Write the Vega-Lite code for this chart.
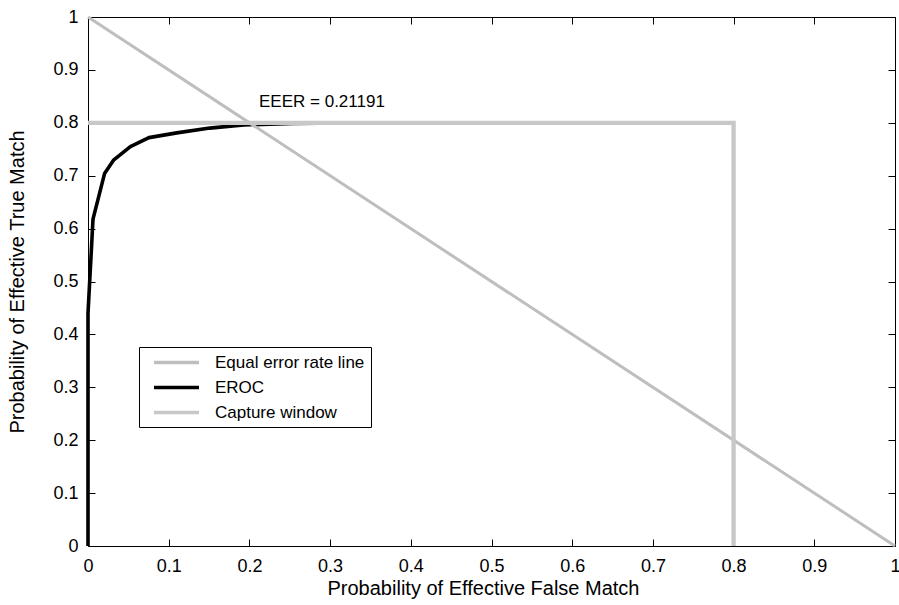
{
  "$schema": "https://vega.github.io/schema/vega-lite/v6.json",
  "width": 807,
  "height": 529,
  "autosize": "none",
  "padding": {"left": 88, "top": 17, "right": 4, "bottom": 59},
  "background": "white",
  "config": {
    "view": {"stroke": null},
    "font": "Liberation Sans",
    "axis": {
      "domainColor": "black",
      "domainWidth": 1,
      "tickColor": "black",
      "tickSize": -7,
      "tickWidth": 1,
      "grid": false,
      "labelFontSize": 18,
      "labelColor": "black",
      "labelFont": "Liberation Sans",
      "labelFlush": false,
      "labelOverlap": false,
      "titleFont": "Liberation Sans",
      "titleFontWeight": "normal",
      "titleColor": "black",
      "titleFontSize": 20
    }
  },
  "data": {
    "values": [
      {"series": "Equal error rate line", "x": 0, "y": 1, "ord": 1},
      {"series": "Equal error rate line", "x": 1, "y": 0, "ord": 2},
      {"series": "EROC", "x": 0, "y": 0, "ord": 1},
      {"series": "EROC", "x": 0, "y": 0.44, "ord": 2},
      {"series": "EROC", "x": 0.0062, "y": 0.618, "ord": 3},
      {"series": "EROC", "x": 0.0205, "y": 0.704, "ord": 4},
      {"series": "EROC", "x": 0.032, "y": 0.73, "ord": 5},
      {"series": "EROC", "x": 0.0525, "y": 0.755, "ord": 6},
      {"series": "EROC", "x": 0.0755, "y": 0.772, "ord": 7},
      {"series": "EROC", "x": 0.11, "y": 0.781, "ord": 8},
      {"series": "EROC", "x": 0.151, "y": 0.79, "ord": 9},
      {"series": "EROC", "x": 0.193, "y": 0.796, "ord": 10},
      {"series": "EROC", "x": 0.254, "y": 0.799, "ord": 11},
      {"series": "EROC", "x": 0.35, "y": 0.8, "ord": 12},
      {"series": "EROC", "x": 0.8, "y": 0.8, "ord": 13},
      {"series": "Capture window", "x": 0, "y": 0.8, "ord": 1},
      {"series": "Capture window", "x": 0.8, "y": 0.8, "ord": 2},
      {"series": "Capture window", "x": 0.8, "y": 0, "ord": 3},
      {"series": "label", "x": 0.21191, "y": 0.84, "ord": 1, "text": "EEER = 0.21191"}
    ]
  },
  "layer": [
    {
      "transform": [{"filter": "datum.series === 'EROC'"}],
      "mark": {"type": "line", "strokeWidth": 3.6, "strokeJoin": "round"},
      "encoding": {
        "x": {
          "field": "x", "type": "quantitative",
          "scale": {"domain": [0, 1], "nice": false, "zero": false},
          "axis": {
            "orient": "bottom",
            "values": [0, 0.1, 0.2, 0.3, 0.4, 0.5, 0.6, 0.7, 0.8, 0.9, 1],
            "format": ".1~f",
            "labelPadding": 18,
            "labelBaseline": "top",
            "title": "Probability of Effective False Match",
            "titleX": 395,
            "titleY": 42,
            "titleBaseline": "middle",
            "titleFontSize": 20
          }
        },
        "y": {
          "field": "y", "type": "quantitative",
          "scale": {"domain": [0, 1], "nice": false, "zero": false},
          "axis": {
            "orient": "left",
            "values": [0, 0.1, 0.2, 0.3, 0.4, 0.5, 0.6, 0.7, 0.8, 0.9, 1],
            "format": ".1~f",
            "labelPadding": 17,
            "title": "Probability of Effective True Match",
            "titleX": -71,
            "titleY": 264.5,
            "titleAngle": -90,
            "titleBaseline": "middle",
            "titleAlign": "center"
          }
        },
        "order": {"field": "ord", "type": "quantitative"},
        "color": {
          "datum": "EROC",
          "type": "nominal",
          "scale": {
            "domain": ["Equal error rate line", "EROC", "Capture window"],
            "range": ["#bebebe", "#000000", "#c8c8c8"]
          },
          "legend": {
            "orient": "none",
            "legendX": 51,
            "legendY": 330,
            "title": null,
            "symbolType": "M-3,0H3",
            "symbolSize": 225,
            "symbolStrokeWidth": 3.5,
            "symbolOffset": 22,
            "labelFontSize": 17,
            "labelFont": "Liberation Sans",
            "labelColor": "black",
            "labelOffset": 29,
            "strokeColor": "black",
            "fillColor": "white",
            "padding": 6,
            "rowPadding": 7
          }
        }
      }
    },
    {
      "transform": [{"filter": "datum.series === 'Equal error rate line'"}],
      "mark": {"type": "line", "strokeWidth": 3},
      "encoding": {
        "x": {
          "field": "x", "type": "quantitative",
          "axis": {
            "orient": "top",
            "values": [0, 0.1, 0.2, 0.3, 0.4, 0.5, 0.6, 0.7, 0.8, 0.9, 1],
            "labels": false,
            "title": null
          }
        },
        "y": {
          "field": "y", "type": "quantitative",
          "axis": {
            "orient": "right",
            "values": [0, 0.1, 0.2, 0.3, 0.4, 0.5, 0.6, 0.7, 0.8, 0.9, 1],
            "labels": false,
            "title": null
          }
        },
        "order": {"field": "ord", "type": "quantitative"},
        "color": {"datum": "Equal error rate line", "type": "nominal"}
      }
    },
    {
      "transform": [{"filter": "datum.series === 'Capture window'"}],
      "mark": {"type": "line", "strokeWidth": 4.3},
      "encoding": {
        "x": {"field": "x", "type": "quantitative", "axis": null},
        "y": {"field": "y", "type": "quantitative", "axis": null},
        "order": {"field": "ord", "type": "quantitative"},
        "color": {"datum": "Capture window", "type": "nominal"}
      }
    },
    {
      "transform": [{"filter": "datum.series === 'label'"}],
      "mark": {"type": "text", "align": "left", "baseline": "middle", "fontSize": 17, "font": "Liberation Sans", "color": "black"},
      "encoding": {
        "x": {"field": "x", "type": "quantitative", "axis": null},
        "y": {"field": "y", "type": "quantitative", "axis": null},
        "text": {"field": "text"}
      }
    }
  ],
  "resolve": {"axis": {"x": "independent", "y": "independent"}}
}
